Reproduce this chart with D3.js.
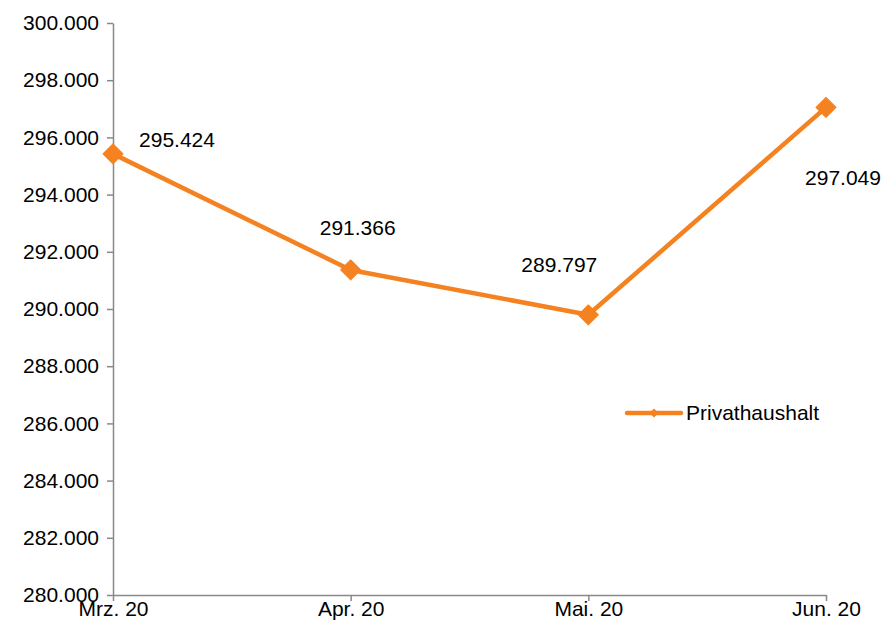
<!DOCTYPE html>
<html>
<head>
<meta charset="utf-8">
<script src="https://cdn.jsdelivr.net/npm/d3@7"></script>
<style>
  body { margin: 0; background: #fff; }
  text { font-family: "Liberation Sans", Arial, sans-serif; }
</style>
</head>
<body>
<div id="chart"></div>
<script>
var width = 887;
var height = 622;

var months = ["Mrz. 20", "Apr. 20", "Mai. 20", "Jun. 20"];
var values = [295424, 291366, 289797, 297049];
var yTicks = [280000, 282000, 284000, 286000, 288000, 290000, 292000, 294000, 296000, 298000, 300000];
var seriesName = "Privathaushalt";

// where each value label sits relative to its point
var labelOffsets = [[64, -14], [7, -42], [-29, -50], [17, 70]];

var orange = "#f58220";
var axisGray = "#898989";
var fontSize = "21px";

var de = d3.formatLocale({decimal: ",", thousands: ".", grouping: [3], currency: ["", " €"]});
var fmt = de.format(",d");

var margin = {left: 113, right: 61, top: 23, bottom: 27};

var svg = d3.select("#chart").append("svg")
  .attr("width", width)
  .attr("height", height);

var x = d3.scalePoint()
  .domain(months)
  .range([margin.left, width - margin.right]);

var y = d3.scaleLinear()
  .domain([280000, 300000])
  .range([height - margin.bottom, margin.top]);

// y axis
var yAxis = svg.append("g")
  .attr("transform", "translate(" + margin.left + ",0)")
  .call(d3.axisLeft(y).tickValues(yTicks).tickFormat(fmt).tickSize(6).tickSizeOuter(0));

// x axis
var xAxis = svg.append("g")
  .attr("transform", "translate(0," + (height - margin.bottom) + ")")
  .call(d3.axisBottom(x).tickSize(6).tickSizeOuter(0));

[yAxis, xAxis].forEach(function(ax) {
  ax.select(".domain").attr("stroke", axisGray).attr("stroke-width", 1.5);
  ax.selectAll(".tick line").attr("stroke", axisGray).attr("stroke-width", 1.5);
  ax.selectAll(".tick text")
    .attr("fill", "#000")
    .style("font-size", fontSize);
});
yAxis.selectAll(".tick text").attr("x", -14);
xAxis.selectAll(".tick text").attr("y", 6).attr("dy", "0.71em");

var pts = months.map(function(m, i) { return {m: m, v: values[i], i: i}; });

var line = d3.line()
  .x(function(d) { return x(d.m); })
  .y(function(d) { return y(d.v); });

svg.append("path")
  .datum(pts)
  .attr("d", line)
  .attr("fill", "none")
  .attr("stroke", orange)
  .attr("stroke-width", 4.5)
  .attr("stroke-linejoin", "round");

var diamond = d3.symbol().type(d3.symbolSquare).size(200);

svg.selectAll(".marker")
  .data(pts)
  .enter().append("path")
    .attr("class", "marker")
    .attr("d", diamond)
    .attr("fill", orange)
    .attr("stroke", orange)
    .attr("stroke-width", 1)
    .attr("stroke-linejoin", "round")
    .attr("transform", function(d) {
      return "translate(" + x(d.m) + "," + y(d.v) + ") rotate(45)";
    });

svg.selectAll(".label")
  .data(pts)
  .enter().append("text")
    .attr("class", "label")
    .attr("x", function(d) { return x(d.m) + labelOffsets[d.i][0]; })
    .attr("y", function(d) { return y(d.v) + labelOffsets[d.i][1]; })
    .attr("dy", "0.35em")
    .attr("text-anchor", "middle")
    .style("font-size", fontSize)
    .text(function(d) { return fmt(d.v); });

// legend
var lg = svg.append("g").attr("transform", "translate(627,413)");
lg.append("line")
  .attr("x1", 0).attr("x2", 54)
  .attr("stroke", orange)
  .attr("stroke-width", 4.5)
  .attr("stroke-linecap", "round");
lg.append("path")
  .attr("d", d3.symbol().type(d3.symbolSquare).size(40))
  .attr("fill", orange)
  .attr("transform", "translate(27,0) rotate(45)");
lg.append("text")
  .attr("x", 59)
  .attr("dy", "0.35em")
  .style("font-size", fontSize)
  .text(seriesName);
</script>
</body>
</html>
